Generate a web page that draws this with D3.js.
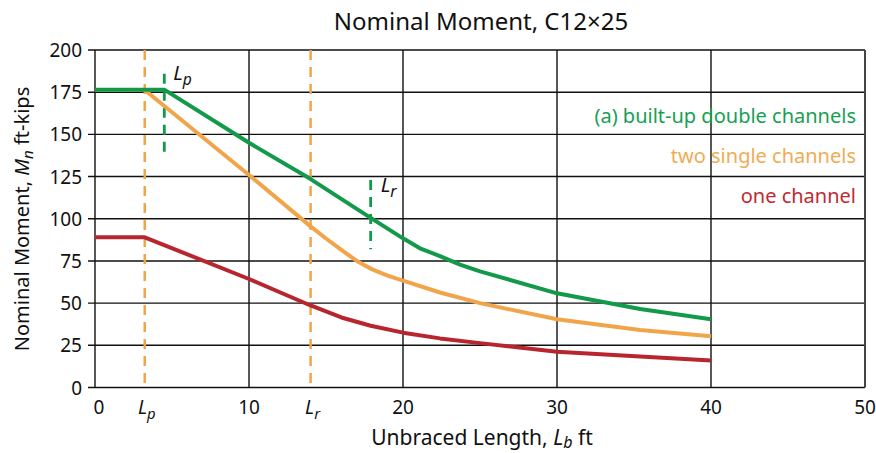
<!DOCTYPE html>
<html>
<head>
<meta charset="utf-8">
<script src="https://cdn.jsdelivr.net/npm/d3@7"></script>
<style>
  body { margin: 0; background: #fff; }
  svg text { font-family: "Noto Sans", Lato, sans-serif; }
</style>
</head>
<body>
<svg id="chart" width="876" height="453"></svg>
<script>
// values
const doubleChannels = [[0, 176.5], [4.5, 176.5], [10, 145], [14, 123.5], [17.9, 100.5], [20, 88.4], [21.1, 82.5],
    [22.4, 77.9], [23.7, 72.8], [25, 68.8], [30, 55.8], [35.4, 46.5], [40, 40.4]];
const twoSingle = [[0, 176.3], [3.23, 176.3], [10, 125.9], [14, 95.5], [15, 88.3], [16, 81.5], [17, 75],
    [18, 70], [19, 66.3], [20, 63.3], [22.4, 56.3], [25, 50], [30, 40.4], [35.4, 34.1], [40, 30.4]];
const oneChannel = [[0, 89], [3.23, 89], [10, 64.3], [14, 48.6], [16, 41.5], [17.9, 36.6], [20, 32.5],
    [22.4, 29.1], [25, 26.3], [30, 21.2], [35.4, 18.3], [40, 16]];

const xTicks = [0, 10, 20, 30, 40, 50];
const yTicks = [0, 25, 50, 75, 100, 125, 150, 175, 200];
const lpSingle = 3.23, lrSingle = 14;
const lpDouble = 4.5, lrDouble = 17.9;

const svg = d3.select("#chart");
const x = d3.scaleLinear().domain([0, 50]).range([95, 865]);
const y = d3.scaleLinear().domain([0, 200]).range([387.5, 50]);

const green = "#12994a", orange = "#f1a54b", red = "#b8252f";

// grid
svg.append("g").selectAll("line").data(yTicks).join("line")
    .attr("x1", x(0) - 7).attr("x2", x(50))
    .attr("y1", d => y(d)).attr("y2", d => y(d))
    .attr("stroke", "#111").attr("stroke-width", 1.4);
svg.append("g").selectAll("line").data(xTicks).join("line")
    .attr("x1", d => x(d)).attr("x2", d => x(d))
    .attr("y1", y(0)).attr("y2", y(200))
    .attr("stroke", d => d === 50 ? "#444" : "#111")
    .attr("stroke-width", d => d === 50 ? 2 : 1.4);

// y tick labels
svg.append("g").selectAll("text").data(yTicks).join("text")
    .attr("x", 82).attr("y", d => y(d) + 7)
    .attr("text-anchor", "end").attr("font-size", 19).attr("fill", "#111")
    .text(d => d);

// x tick labels
svg.append("g").selectAll("text").data(xTicks).join("text")
    .attr("x", d => d === 0 ? x(d) + 4 : x(d)).attr("y", 414)
    .attr("text-anchor", "middle").attr("font-size", 19).attr("fill", "#111")
    .text(d => d);

function sublabel(g, px, py, sub, size) {
    const t = g.append("text").attr("x", px).attr("y", py)
        .attr("font-size", size).attr("fill", "#111").attr("text-anchor", "middle");
    t.append("tspan").attr("font-style", "italic").text("L");
    t.append("tspan").attr("font-style", "italic").attr("font-size", size * 0.78)
        .attr("dy", 5).text(sub);
    return t;
}
sublabel(svg, x(lpSingle) + 2, 414, "p", 19);
sublabel(svg, x(lrSingle) + 2, 414, "r", 19);

// dashed limit markers
svg.append("line")
    .attr("x1", x(lpSingle)).attr("x2", x(lpSingle)).attr("y1", y(200)).attr("y2", y(0))
    .attr("stroke", orange).attr("stroke-width", 2.5).attr("stroke-dasharray", "10,7");
svg.append("line")
    .attr("x1", x(lrSingle)).attr("x2", x(lrSingle)).attr("y1", y(200)).attr("y2", y(0))
    .attr("stroke", orange).attr("stroke-width", 2.5).attr("stroke-dasharray", "10,7");
svg.append("line")
    .attr("x1", x(lpDouble)).attr("x2", x(lpDouble)).attr("y1", y(186)).attr("y2", y(137))
    .attr("stroke", green).attr("stroke-width", 2.8).attr("stroke-dasharray", "10,7");
svg.append("line")
    .attr("x1", x(lrDouble)).attr("x2", x(lrDouble)).attr("y1", y(123)).attr("y2", y(82))
    .attr("stroke", green).attr("stroke-width", 2.8).attr("stroke-dasharray", "10,7");

sublabel(svg, x(lpDouble) + 9, 80, "p", 20).attr("text-anchor", "start");
sublabel(svg, x(lrDouble) + 10, 192, "r", 20).attr("text-anchor", "start");

// curves
const line = d3.line().x(d => x(d[0])).y(d => y(d[1]));
[[oneChannel, red], [twoSingle, orange], [doubleChannels, green]].forEach(([data, c]) => {
    svg.append("path").datum(data).attr("d", line)
        .attr("fill", "none").attr("stroke", c).attr("stroke-width", 4)
        .attr("stroke-linejoin", "round");
});

// legend
const legend = [["(a) built-up double channels", "#17a053", 123], ["two single channels", "#f2ab55", 163], ["one channel", "#bf2a33", 203]];
svg.append("g").selectAll("text").data(legend).join("text")
    .attr("x", 856).attr("y", d => d[2])
    .attr("text-anchor", "end").attr("font-size", 20).attr("fill", d => d[1])
    .text(d => d[0]);

// title
svg.append("text").attr("x", 481).attr("y", 30).attr("text-anchor", "middle")
    .attr("font-size", 24).attr("fill", "#111").text("Nominal Moment, C12×25");

// axis titles
const xt = svg.append("text").attr("x", 482).attr("y", 445).attr("text-anchor", "middle")
    .attr("font-size", 21).attr("fill", "#111");
xt.append("tspan").text("Unbraced Length, ");
xt.append("tspan").attr("font-style", "italic").text("L");
xt.append("tspan").attr("font-style", "italic").attr("font-size", 16).attr("dy", 3).text("b");
xt.append("tspan").attr("dy", -3).text(" ft");

const yt = svg.append("text").attr("transform", "translate(29,219) rotate(-90)")
    .attr("text-anchor", "middle").attr("font-size", 20).attr("fill", "#111");
yt.append("tspan").text("Nominal Moment, ");
yt.append("tspan").attr("font-style", "italic").text("M");
yt.append("tspan").attr("font-style", "italic").attr("font-size", 15).attr("dy", 4).text("n");
yt.append("tspan").attr("dy", -4).text(" ft-kips");
</script>
</body>
</html>
